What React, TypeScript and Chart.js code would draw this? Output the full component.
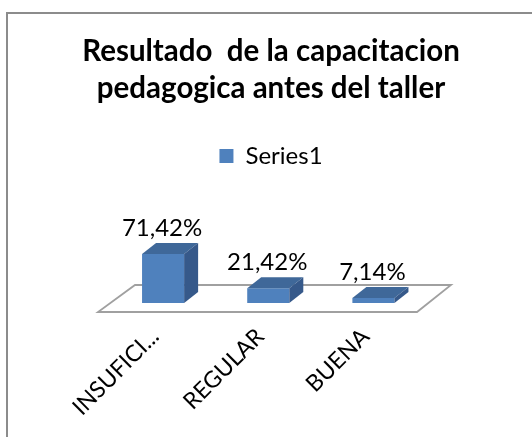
import React, { useEffect, useRef } from "react";
import { Chart, registerables } from "chart.js";

Chart.register(...registerables);

const categories = ["INSUFICI...", "REGULAR", "BUENA"];
const values = [71.42, 21.42, 7.14];
const valueLabels = ["71,42%", "21,42%", "7,14%"];
const seriesName = "Series1";
const titleLines = ["Resultado  de la capacitacion", "pedagogica antes del taller"];

const FRONT = "#4F81BD";
const TOP_FACE = "#3F6899";
const SIDE_FACE = "#36598A";
const DEPTH_X = 14;
const DEPTH_Y = 11;
const FONT = "Lato, 'Open Sans', sans-serif";

const decorPlugin = {
  id: "decor3d",
  beforeDraw(chart: any) {
    const ctx = chart.ctx;
    ctx.save();
    ctx.fillStyle = "#ffffff";
    ctx.fillRect(0, 0, chart.width, chart.height);
    ctx.strokeStyle = "#8c8c8c";
    ctx.lineWidth = 2;
    ctx.beginPath();
    ctx.moveTo(7, chart.height + 5);
    ctx.lineTo(7, 13);
    ctx.lineTo(chart.width + 5, 13);
    ctx.stroke();
    ctx.restore();
  },
  beforeDatasetsDraw(chart: any) {
    const { left, right, bottom } = chart.chartArea;
    const ctx = chart.ctx;
    ctx.save();
    ctx.beginPath();
    ctx.moveTo(left - 12.5, bottom + 9);
    ctx.lineTo(right - 9, bottom + 9);
    ctx.lineTo(right + 25, bottom - 18);
    ctx.lineTo(left + 24.5, bottom - 18);
    ctx.closePath();
    ctx.fillStyle = "#ffffff";
    ctx.fill();
    ctx.strokeStyle = "#a0a0a0";
    ctx.lineWidth = 1.8;
    ctx.stroke();
    ctx.restore();
  },
  afterDatasetsDraw(chart: any) {
    const ctx = chart.ctx;
    const meta = chart.getDatasetMeta(0);
    ctx.save();
    meta.data.forEach((bar: any, i: number) => {
      const { x, y, base, width } = bar.getProps(["x", "y", "base", "width"], true);
      const l = x - width / 2;
      const r = x + width / 2;
      ctx.beginPath();
      ctx.moveTo(l, y);
      ctx.lineTo(r, y);
      ctx.lineTo(r + DEPTH_X, y - DEPTH_Y);
      ctx.lineTo(l + DEPTH_X, y - DEPTH_Y);
      ctx.closePath();
      ctx.fillStyle = TOP_FACE;
      ctx.fill();
      ctx.beginPath();
      ctx.moveTo(r, y);
      ctx.lineTo(r + DEPTH_X, y - DEPTH_Y);
      ctx.lineTo(r + DEPTH_X, base - DEPTH_Y);
      ctx.lineTo(r, base);
      ctx.closePath();
      ctx.fillStyle = SIDE_FACE;
      ctx.fill();
      ctx.fillStyle = "#000000";
      ctx.font = `24px ${FONT}`;
      ctx.textAlign = "center";
      ctx.textBaseline = "alphabetic";
      ctx.fillText(valueLabels[i], x - 1, y - DEPTH_Y - 7);
    });
    ctx.restore();
  },
};

const hiddenAxis = (width: number, position: string) => ({
  position,
  display: true,
  grid: { display: false },
  border: { display: false },
  ticks: { display: false },
  afterFit: (scale: any) => {
    scale.width = width;
  },
});

export default function App() {
  const canvasRef = useRef<HTMLCanvasElement | null>(null);

  useEffect(() => {
    const canvas = canvasRef.current;
    if (!canvas) return;
    const chart = new Chart(canvas, {
      type: "bar",
      data: {
        labels: categories,
        datasets: [
          {
            label: seriesName,
            data: values,
            backgroundColor: FRONT,
            borderWidth: 0,
            categoryPercentage: 1,
            barPercentage: 0.4,
            yAxisID: "y",
          },
        ],
      },
      options: {
        responsive: false,
        animation: false,
        events: [],
        layout: { padding: { left: 12, right: 2, top: 0, bottom: 0 } },
        plugins: {
          title: {
            display: true,
            text: titleLines,
            color: "#000000",
            font: { family: FONT, size: 29.5, weight: "bold", lineHeight: 1.244 },
            padding: { top: 33.55, bottom: 10 },
          },
          legend: {
            display: true,
            position: "top",
            labels: {
              color: "#000000",
              font: { family: FONT, size: 24 },
              boxWidth: 14,
              boxHeight: 14,
              padding: 27.05,
            },
          },
          tooltip: { enabled: false },
        },
        scales: {
          x: {
            grid: { display: false },
            border: { display: false },
            ticks: {
              color: "#000000",
              font: { family: FONT, size: 23 },
              minRotation: 45,
              maxRotation: 45,
              autoSkip: false,
              padding: 12,
              labelOffset: -8,
            },
            afterFit: (scale: any) => {
              scale.height = 134;
            },
          },
          y: { ...hiddenAxis(98.5, "left"), min: 0, max: 182 },
          y2: { ...hiddenAxis(104, "right"), min: 0, max: 182 },
        },
      },
      plugins: [decorPlugin],
    } as any);
    return () => chart.destroy();
  }, []);

  return (
    <div style={{ position: "absolute", left: 0, top: 0, width: 532, height: 437 }}>
      <canvas ref={canvasRef} width={532} height={437} style={{ display: "block" }} />
    </div>
  );
}
